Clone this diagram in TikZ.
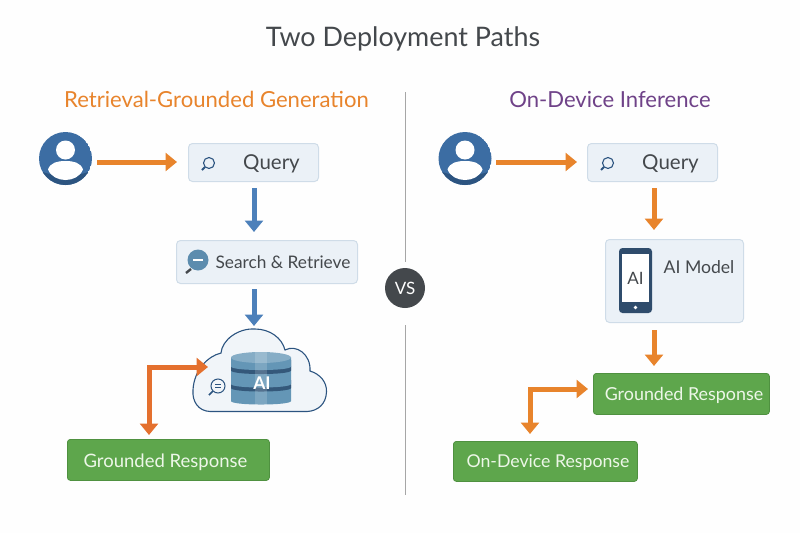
\documentclass[tikz,border=0pt]{standalone}
\usepackage{fontspec}
\setmainfont{Lato}
\usetikzlibrary{arrows.meta,calc}
\definecolor{ink}{HTML}{44484C}
\definecolor{ora}{HTML}{E8842C}
\definecolor{orb}{HTML}{E4702E}
\definecolor{blu}{HTML}{4C80BA}
\definecolor{navy}{HTML}{3C6DA3}
\definecolor{navyd}{HTML}{2C5480}
\definecolor{pale}{HTML}{EBF1F7}
\definecolor{paleline}{HTML}{CFDCE8}
\definecolor{grn}{HTML}{5EA64C}
\definecolor{grnline}{HTML}{4F9140}
\definecolor{grntxt}{HTML}{EDF7E8}
\definecolor{purp}{HTML}{6F4288}
\definecolor{cyl}{HTML}{6496B6}
\definecolor{cyt}{HTML}{86ADC6}
\definecolor{cyd}{HTML}{34587A}
\definecolor{phone}{HTML}{2F4C6C}
\tikzset{
 lbl/.style={text=ink,inner sep=0pt},
 softbox/.style={draw=paleline,fill=pale,line width=1pt,rounded corners=4pt,anchor=north west,inner sep=0pt},
 greenbox/.style={draw=grnline,fill=grn,line width=.8pt,rounded corners=3pt,anchor=north west,inner sep=0pt},
 greentext/.style={inner sep=0pt,text=grntxt,font=\fontsize{#1}{22}\selectfont},
 flow/.style={line width=5pt,-{Triangle[length=11.5pt,width=18pt]}},
 both/.style={line width=5pt,{Triangle[length=11.5pt,width=18pt]}-{Triangle[length=11.5pt,width=18pt]}},
 heading/.style={inner sep=0pt,font=\fontsize{22.1}{28}\selectfont},
 querytext/.style={lbl,font=\fontsize{20.5}{24}\selectfont},
}
\newcommand{\userglyph}[1]{%
 \begin{scope}
 \clip (#1) circle (26.5);
 \fill[navy] (#1) circle (26.5);
 \fill[navyd] ($(#1)+(-27,12)$) .. controls ($(#1)+(-10,19)$) and ($(#1)+(10,19)$) .. ($(#1)+(27,12)$) -- ($(#1)+(27,27)$) -- ($(#1)+(-27,27)$) -- cycle;
 \fill[white] ($(#1)+(0,-8.5)$) circle (9.5);
 \fill[white] ($(#1)+(-17.5,11)$) .. controls ($(#1)+(-15,4)$) and ($(#1)+(-8,2.5)$) .. ($(#1)+(0,2.5)$) .. controls ($(#1)+(8,2.5)$) and ($(#1)+(15,4)$) .. ($(#1)+(17.5,11)$) .. controls ($(#1)+(12,25)$) and ($(#1)+(-12,25)$) .. ($(#1)+(-17.5,11)$) -- cycle;
 \end{scope}}
\newcommand{\lens}[2]{%
 \draw[navyd,line width=1.1pt] ($(#1)+(1,-1)$) circle (#2);
 \draw[navyd,line width=1.8pt] ($(#1)+(-3,3)$) -- ($(#1)+(-6,6)$);}
\newcommand{\dbody}[3]{% top y, edge y of the lower rim, colour
 \fill[#3] (231,#1) -- (231,#2) .. controls (231,#2+4.7) and (291,#2+4.7) .. (291,#2) -- (291,#1) -- cycle;}
\begin{document}
\begin{tikzpicture}[x=1pt,y=-1pt]
\useasboundingbox (0,0) rectangle (800,533);
\fill[white!99.5!black] (0,0) rectangle (800,533);

\node[lbl,font=\fontsize{26.9}{32}\selectfont] (title) at (403,38.5) {Two Deployment Paths};
\node[heading,text=ora] (headl) at (216.5,99.5) {Retrieval-Grounded Generation};
\node[heading,text=purp] (headr) at (610,99.5) {On-Device Inference};

% divider
\coordinate (divtop) at (405,92);
\coordinate (divbot) at (405,495);
\node[circle,fill=ink,minimum size=40pt,inner sep=0pt,text=white,font=\fontsize{17}{20}\selectfont] (vs) at (405,288) {VS};
\draw[black!35,line width=1pt,shorten >=6pt] (divtop) -- (vs);
\draw[black!35,line width=1pt,shorten <=17pt] (vs) -- (divbot);

% left column
\node[circle,minimum size=53pt,inner sep=0pt] (userl) at (65.5,158.5) {};
\userglyph{userl.center}
\node[softbox,minimum width=130pt,minimum height=38pt] (queryl) at (188,143) {};
\node[querytext] (qtl) at (271.5,163.5) {Query};
\coordinate (lensl) at (208,164); \lens{lensl}{5.5}
\node[softbox,minimum width=181pt,minimum height=43pt] (search) at (176,240) {};
\node[lbl,font=\fontsize{17.3}{21}\selectfont] (stx) at (283,262.5) {Search \& Retrieve};
\coordinate (sic) at (198,260);
\fill[cyl!85!navyd] (sic) circle (10.5);
\fill[white] ($(sic)+(-5,-1.5)$) rectangle ($(sic)+(5,1.2)$);
\draw[ink,line width=2.4pt] ($(sic)+(-7,9)$) -- ($(sic)+(-12,13)$);

\coordinate (uql1) at (97,162); \coordinate (uql2) at (177,162);
\draw[flow,ora] (uql1) -- (uql2);
\coordinate (a1) at (254,188); \coordinate (a2) at (254,232);
\draw[flow,blu] (a1) -- (a2);
\coordinate (a3) at (254,289); \coordinate (a4) at (254,326);
\draw[flow,blu] (a3) -- (a4);

% cloud
\draw[navyd,line width=1.1pt,fill=pale!70!white]
 (210,411.5) .. controls (198,411) and (192,401) .. (193,390)
 .. controls (194,370) and (208,356) .. (221,353)
 .. controls (222,340) and (238,328) .. (255,329)
 .. controls (270,329) and (282,338) .. (285,350)
 .. controls (296,344) and (311,354) .. (310,371)
 .. controls (320,374) and (327,382) .. (326.5,392)
 .. controls (326,404) and (318,411) .. (307,411.5) -- cycle;
% database
\dbody{385}{401}{cyl}
\dbody{380}{388}{cyd}
\dbody{366}{384}{cyl}
\dbody{360}{370.5}{cyd}
\dbody{357.5}{366.5}{cyl}
\fill[cyt] (261,357.5) ellipse (30 and 5.5);
\fill[white,opacity=.16] (255,352) rectangle (267,404.5);
\node[text=white,inner sep=0pt,font=\bfseries\fontsize{17.5}{20}\selectfont] (ai) at (262,383) {AI};
\draw[navyd,line width=1pt] (218,386) circle (7);
\draw[navyd,line width=1pt] (215,384.5) -- (221,384.5) (215,387.5) -- (221,387.5);
\draw[navyd,line width=1.6pt] (213,391) -- (209,395);

\coordinate (bl1) at (208,367); \coordinate (blc) at (149,367); \coordinate (bl2) at (149,435);
\draw[both,orb,line join=miter] (bl1) -- (blc) -- (bl2);
\node[greenbox,minimum width=202pt,minimum height=41pt] (gl) at (67,439) {};
\node[greentext=18.5] (gltx) at (165.5,462) {Grounded Response};

% right column
\node[circle,minimum size=53pt,inner sep=0pt] (userr) at (465,158.5) {};
\userglyph{userr.center}
\node[softbox,minimum width=130pt,minimum height=38pt] (queryr) at (587,143) {};
\node[querytext] (qtr) at (670.5,163.5) {Query};
\coordinate (lensr) at (607,164); \lens{lensr}{5.5}
\node[softbox,minimum width=138pt,minimum height=83pt] (model) at (605,239) {};
\fill[phone,rounded corners=3.5pt] (619,248) rectangle (652,313);
\fill[white] (622,254) rectangle (649,302);
\fill[white] (635.5,307.5) circle (1.8);
\node[lbl,font=\fontsize{17}{20}\selectfont] (aip) at (635.5,278) {AI};
\node[lbl,font=\fontsize{17.6}{21}\selectfont] (mtx) at (699,267) {AI Model};

\coordinate (ur1) at (496,162); \coordinate (ur2) at (577,162);
\draw[flow,ora] (ur1) -- (ur2);
\coordinate (b1) at (654,188); \coordinate (b2) at (654,230);
\draw[flow,ora] (b1) -- (b2);
\coordinate (b3) at (654,330); \coordinate (b4) at (654,366);
\draw[flow,ora] (b3) -- (b4);
\node[greenbox,minimum width=176pt,minimum height=41pt] (gr1) at (593,373) {};
\node[greentext=17.9] (gr1tx) at (684,395) {Grounded Response};
\coordinate (br1) at (588,389); \coordinate (brc) at (530,389); \coordinate (br2) at (530,434);
\draw[both,ora] (br1) -- (brc) -- (br2);
\node[greenbox,minimum width=184pt,minimum height=40pt] (gr2) at (453,441) {};
\node[greentext=17.7] (gr2tx) at (548,462.5) {On-Device Response};
\end{tikzpicture}
\end{document}
